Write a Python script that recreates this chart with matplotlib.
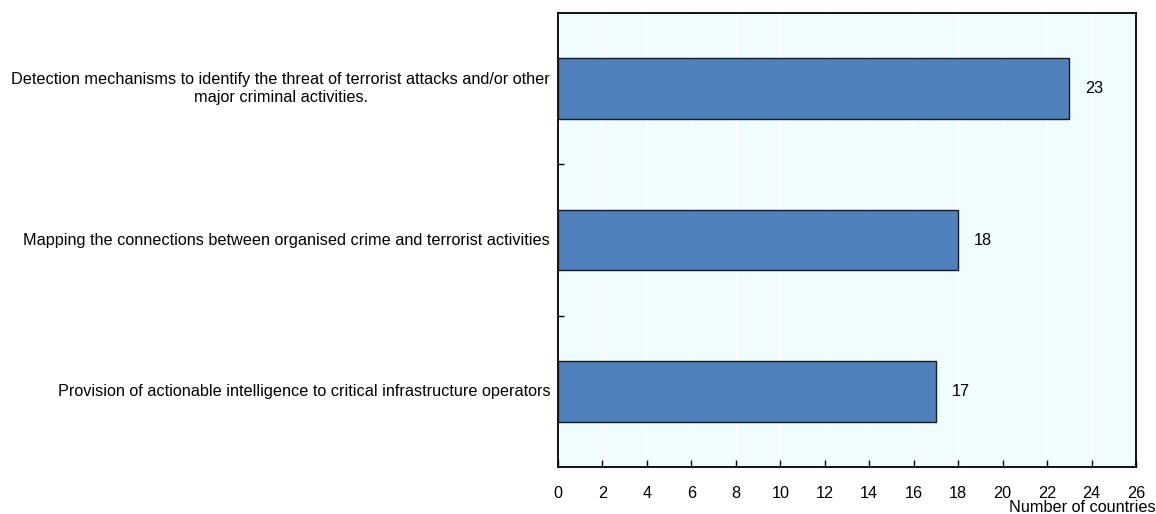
import matplotlib
matplotlib.use("Agg")
import matplotlib.pyplot as plt

plt.rcParams["font.family"] = ["Liberation Sans", "DejaVu Sans"]

# categories top to bottom
CATEGORIES = [
    "Detection mechanisms to identify the threat of terrorist attacks and/or other\nmajor criminal activities.",
    "Mapping the connections between organised crime and terrorist activities",
    "Provision of actionable intelligence to critical infrastructure operators",
]
COUNTS = [23, 18, 17]
X_TICKS = list(range(0, 27, 2))

BAR_COL = "#4f81bd"
BG_COL = "#f0fdfe"
FS = 11.7

fig = plt.figure(figsize=(11.56, 5.14), dpi=100)
ax = fig.add_axes([0.4827, 0.0914, 0.5, 0.8833])
ax.set_facecolor(BG_COL)

y = list(range(len(CATEGORIES)))
ax.barh(y, COUNTS, height=0.4, color=BAR_COL, edgecolor="#1a1a1a", linewidth=1.0, zorder=3)
for yi, v in zip(y, COUNTS):
    ax.text(v + 0.7, yi, f"{v}", ha="left", va="center", fontsize=FS, zorder=4)

ax.set_ylim(2.5, -0.5)
ax.set_xlim(0, 26)
ax.set_xticks(X_TICKS)
ax.set_xticklabels([str(t) for t in X_TICKS], fontsize=FS)
ax.tick_params(axis="x", direction="in", length=5, width=1, pad=14)
ax.xaxis.grid(True, color="white", linewidth=1.0, zorder=0)
ax.set_axisbelow(True)

# category labels sit between boundary ticks
ax.set_yticks([0.5, 1.5])
ax.set_yticklabels([])
ax.tick_params(axis="y", direction="in", length=4, width=1)
for yi, lab in zip(y, CATEGORIES):
    ax.text(-0.35, yi, lab, ha="right", va="center", fontsize=FS,
            multialignment="center")

for s in ax.spines.values():
    s.set_linewidth(1.3)
    s.set_color("black")

fig.text(1.0, 0.004, "Number of countries", ha="right", va="baseline", fontsize=FS)

fig.savefig("out.png", dpi=100)
